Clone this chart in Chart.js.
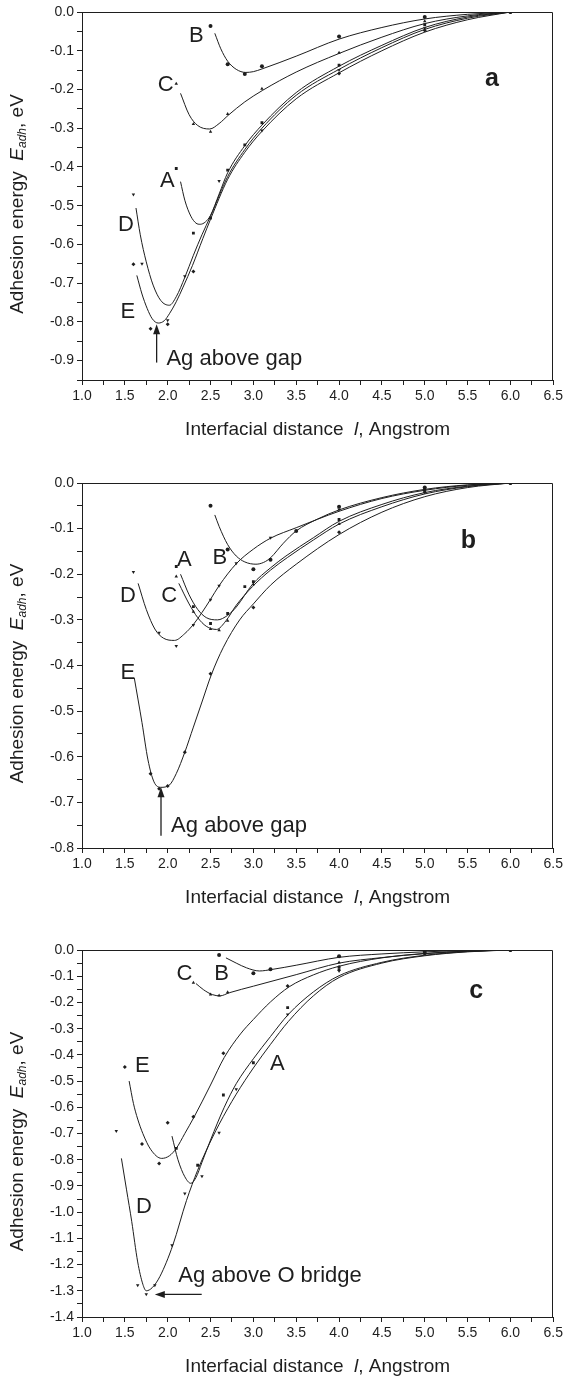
<!DOCTYPE html>
<html>
<head>
<meta charset="utf-8">
<script src="https://cdn.jsdelivr.net/npm/chart.js@4.4.0/dist/chart.umd.min.js"></script>
<style>
html,body{margin:0;padding:0;background:#fff;}
#wrap{position:relative;width:566px;height:1377px;overflow:hidden;}
.pane{position:absolute;left:0;width:566px;}
canvas{display:block;}
</style>
</head>
<body>
<div id="wrap">
  <div class="pane" style="top:0px;height:460px"><canvas id="ca" width="566" height="460"></canvas></div>
  <div class="pane" style="top:460px;height:460px"><canvas id="cb" width="566" height="460"></canvas></div>
  <div class="pane" style="top:920px;height:457px"><canvas id="cc" width="566" height="457"></canvas></div>
</div>
<script>
// ---------------- tick labels ----------------
const xTickLabels = ['1.0','1.5','2.0','2.5','3.0','3.5','4.0','4.5','5.0','5.5','6.0','6.5'];
const yTickLabelsA = ['0.0','-0.1','-0.2','-0.3','-0.4','-0.5','-0.6','-0.7','-0.8','-0.9'];
const yTickLabelsB = ['0.0','-0.1','-0.2','-0.3','-0.4','-0.5','-0.6','-0.7','-0.8'];
const yTickLabelsC = ['0.0','-0.1','-0.2','-0.3','-0.4','-0.5','-0.6','-0.7','-0.8','-0.9','-1.0','-1.1','-1.2','-1.3','-1.4'];
const seriesNames = ['A','B','C','D','E'];

// ---------------- panel a : fitted curves [l, E] ----------------
const a_A_curve = [[2.15,-0.438],[2.2,-0.486],[2.27,-0.527],[2.33,-0.545],[2.38,-0.548],[2.44,-0.542],[2.5,-0.525],[2.6,-0.470],[2.7,-0.415],[2.9,-0.345],[3.1,-0.292],[3.5,-0.208],[4.0,-0.140],[4.5,-0.086],[5.0,-0.040],[5.5,-0.013],[6.0,0]];
const a_B_curve = [[2.55,-0.055],[2.62,-0.095],[2.7,-0.127],[2.8,-0.148],[2.91,-0.156],[3.0,-0.154],[3.1,-0.147],[3.5,-0.114],[4.0,-0.070],[4.5,-0.040],[5.0,-0.018],[5.5,-0.006],[6.0,0]];
const a_C_curve = [[2.15,-0.210],[2.25,-0.265],[2.35,-0.293],[2.49,-0.302],[2.6,-0.288],[2.71,-0.266],[2.9,-0.232],[3.11,-0.202],[3.5,-0.155],[4.0,-0.107],[4.5,-0.065],[5.0,-0.030],[5.5,-0.010],[6.0,0]];
const a_D_curve = [[1.63,-0.506],[1.68,-0.575],[1.75,-0.645],[1.83,-0.705],[1.92,-0.745],[2.02,-0.757],[2.1,-0.735],[2.2,-0.685],[2.3,-0.628],[2.4,-0.575],[2.5,-0.527],[2.7,-0.425],[2.9,-0.355],[3.1,-0.300],[3.5,-0.215],[4.0,-0.148],[4.5,-0.092],[5.0,-0.045],[5.5,-0.016],[6.0,0]];
const a_E_curve = [[1.64,-0.680],[1.70,-0.728],[1.76,-0.765],[1.82,-0.792],[1.89,-0.803],[1.96,-0.797],[2.02,-0.779],[2.1,-0.748],[2.18,-0.710],[2.29,-0.654],[2.41,-0.585],[2.5,-0.535],[2.7,-0.432],[2.9,-0.362],[3.1,-0.308],[3.5,-0.224],[4.0,-0.157],[4.5,-0.100],[5.0,-0.052],[5.5,-0.020],[6.0,0]];
// panel a : computed points
const a_A_pts = [[2.1,-0.404],[2.3,-0.571],[2.5,-0.532],[2.7,-0.408],[2.9,-0.343],[3.1,-0.286],[4.0,-0.137],[5.0,-0.033],[6.0,0]];
const a_B_pts = [[2.5,-0.036],[2.7,-0.135],[2.9,-0.160],[3.1,-0.140],[4.0,-0.063],[5.0,-0.013],[6.0,0]];
const a_C_pts = [[2.1,-0.185],[2.3,-0.289],[2.5,-0.309],[2.7,-0.263],[3.1,-0.198],[4.0,-0.105],[5.0,-0.024],[6.0,0]];
const a_D_pts = [[1.6,-0.471],[1.7,-0.650],[2.0,-0.796],[2.2,-0.682],[2.6,-0.436],[3.1,-0.306],[4.0,-0.150],[5.0,-0.042],[6.0,0]];
const a_E_pts = [[1.6,-0.651],[1.8,-0.818],[2.0,-0.806],[2.3,-0.670],[4.0,-0.159],[5.0,-0.048],[6.0,0]];

// ---------------- panel b ----------------
const b_A_curve = [[2.15,-0.200],[2.25,-0.245],[2.35,-0.277],[2.45,-0.295],[2.58,-0.300],[2.7,-0.290],[2.8,-0.272],[2.99,-0.222],[3.2,-0.186],[3.38,-0.160],[3.7,-0.120],[4.0,-0.084],[4.5,-0.047],[5.0,-0.021],[5.5,-0.007],[6.0,0]];
const b_B_curve = [[2.55,-0.070],[2.6,-0.095],[2.7,-0.135],[2.8,-0.160],[2.9,-0.173],[3.03,-0.178],[3.12,-0.174],[3.2,-0.164],[3.35,-0.132],[3.5,-0.105],[3.75,-0.079],[4.0,-0.059],[4.5,-0.032],[5.0,-0.014],[5.5,-0.004],[6.0,0]];
const b_C_curve = [[2.13,-0.220],[2.25,-0.265],[2.35,-0.295],[2.45,-0.314],[2.57,-0.321],[2.68,-0.302],[2.8,-0.268],[2.99,-0.227],[3.2,-0.191],[3.4,-0.163],[3.7,-0.125],[4.0,-0.090],[4.5,-0.052],[5.0,-0.024],[5.5,-0.008],[6.0,0]];
const b_D_curve = [[1.655,-0.220],[1.75,-0.277],[1.85,-0.320],[1.95,-0.340],[2.08,-0.345],[2.2,-0.330],[2.3,-0.310],[2.4,-0.284],[2.5,-0.255],[2.6,-0.225],[2.8,-0.177],[3.0,-0.145],[3.2,-0.121],[3.5,-0.098],[4.0,-0.062],[4.5,-0.034],[5.0,-0.016],[5.5,-0.005],[6.0,0]];
const b_E_curve = [[1.61,-0.427],[1.70,-0.525],[1.77,-0.607],[1.84,-0.655],[1.92,-0.667],[2.02,-0.662],[2.1,-0.637],[2.2,-0.590],[2.3,-0.535],[2.4,-0.480],[2.51,-0.420],[2.65,-0.360],[2.84,-0.300],[3.0,-0.265],[3.2,-0.224],[3.5,-0.178],[4.0,-0.113],[4.5,-0.064],[5.0,-0.030],[5.5,-0.010],[6.0,0]];
const b_A_pts = [[2.1,-0.183],[2.3,-0.271],[2.5,-0.308],[2.7,-0.286],[2.9,-0.227],[3.0,-0.216],[4.0,-0.080],[5.0,-0.015],[6.0,0]];
const b_B_pts = [[2.5,-0.050],[2.7,-0.146],[3.0,-0.189],[3.2,-0.168],[3.5,-0.105],[4.0,-0.052],[5.0,-0.010],[6.0,0]];
const b_C_pts = [[2.1,-0.205],[2.3,-0.282],[2.5,-0.320],[2.6,-0.323],[2.7,-0.302],[3.0,-0.222],[4.0,-0.090],[5.0,-0.018],[6.0,0]];
const b_D_pts = [[1.6,-0.195],[1.9,-0.328],[2.1,-0.357],[2.3,-0.311],[2.5,-0.256],[2.6,-0.225],[2.8,-0.176],[3.2,-0.120],[4.0,-0.058],[5.0,-0.012],[6.0,0]];
const b_E_pts = [[1.8,-0.637],[1.9,-0.670],[2.0,-0.664],[2.2,-0.590],[2.5,-0.418],[3.0,-0.273],[4.0,-0.108],[5.0,-0.020],[6.0,0]];

// ---------------- panel c ----------------
const c_A_curve = [[2.05,-0.710],[2.12,-0.800],[2.2,-0.865],[2.27,-0.890],[2.33,-0.868],[2.4,-0.810],[2.5,-0.725],[2.66,-0.600],[2.8,-0.510],[3.0,-0.415],[3.2,-0.330],[3.41,-0.245],[3.7,-0.160],[4.0,-0.098],[4.5,-0.047],[5.0,-0.020],[5.5,-0.006],[6.0,0]];
const c_B_curve = [[2.68,-0.030],[2.8,-0.050],[2.92,-0.068],[3.07,-0.080],[3.22,-0.074],[3.5,-0.058],[4.0,-0.028],[4.5,-0.015],[5.0,-0.007],[5.5,-0.002],[6.0,0]];
const c_C_curve = [[2.33,-0.128],[2.42,-0.152],[2.52,-0.170],[2.61,-0.175],[2.72,-0.163],[3.0,-0.138],[3.5,-0.094],[4.0,-0.050],[4.5,-0.029],[5.0,-0.014],[5.5,-0.005],[6.0,0]];
const c_D_curve = [[1.46,-0.795],[1.52,-0.915],[1.58,-1.035],[1.65,-1.190],[1.71,-1.275],[1.75,-1.300],[1.82,-1.288],[1.91,-1.245],[2.06,-1.126],[2.22,-0.955],[2.35,-0.840],[2.45,-0.765],[2.6,-0.665],[2.8,-0.550],[3.0,-0.450],[3.2,-0.360],[3.41,-0.272],[3.7,-0.175],[4.0,-0.105],[4.5,-0.050],[5.0,-0.022],[5.5,-0.007],[6.0,0]];
const c_E_curve = [[1.55,-0.500],[1.6,-0.585],[1.65,-0.645],[1.71,-0.700],[1.8,-0.760],[1.93,-0.795],[2.02,-0.785],[2.1,-0.757],[2.2,-0.700],[2.31,-0.636],[2.5,-0.515],[2.66,-0.410],[2.85,-0.320],[3.0,-0.265],[3.2,-0.198],[3.42,-0.140],[3.7,-0.095],[4.0,-0.062],[4.5,-0.030],[5.0,-0.013],[5.5,-0.004],[6.0,0]];
const c_A_pts = [[2.1,-0.757],[2.35,-0.821],[2.65,-0.553],[3.0,-0.430],[3.4,-0.220],[4.0,-0.075],[5.0,-0.012],[6.0,0]];
const c_B_pts = [[2.6,-0.019],[3.0,-0.089],[3.2,-0.073],[4.0,-0.024],[5.0,-0.008],[6.0,0]];
const c_C_pts = [[2.3,-0.125],[2.5,-0.170],[2.6,-0.174],[2.7,-0.161],[4.0,-0.048],[5.0,-0.012],[6.0,0]];
const c_D_pts = [[1.4,-0.690],[1.65,-1.279],[1.75,-1.313],[1.85,-1.279],[2.05,-1.126],[2.2,-0.929],[2.4,-0.863],[2.6,-0.697],[2.8,-0.531],[3.4,-0.246],[4.0,-0.080],[5.0,-0.010],[6.0,0]];
const c_E_pts = [[1.5,-0.446],[1.7,-0.740],[1.9,-0.814],[2.0,-0.659],[2.3,-0.636],[2.65,-0.394],[3.4,-0.137],[4.0,-0.065],[5.0,-0.014],[6.0,0]];

// ---------------- styling ----------------
const INK = '#1e1e1e';
const FONT = "'Liberation Sans', Arial, Helvetica, sans-serif";
const markerStyle = {A:{s:'rect',r:0}, B:{s:'circle',r:0}, C:{s:'triangle',r:0}, D:{s:'triangle',r:180}, E:{s:'rectRot',r:0}};

function toXY(arr){ return arr.map(p => ({x:p[0], y:p[1]})); }
function curveDS(arr){
  return {data:toXY(arr), showLine:true, pointRadius:0, borderWidth:1, borderColor:INK,
          backgroundColor:INK, fill:false, cubicInterpolationMode:'monotone'};
}
function pointDS(arr, name){
  const m = markerStyle[name];
  return {data:toXY(arr), showLine:false, pointRadius:2, pointStyle:m.s, rotation:m.r,
          pointBackgroundColor:INK, pointBorderColor:INK, pointBorderWidth:0};
}
function labelFor(list){
  return function(v){
    const s = list.find(l => Math.abs(parseFloat(l) - v) < 1e-6);
    return s === undefined ? '' : s;
  };
}
function drawRuns(ctx, runs, x, y){
  let w = 0;
  runs.forEach(r => { ctx.font = r.f; r.w = ctx.measureText(r.t).width; w += r.w; });
  let cx = x - w/2;
  runs.forEach(r => { ctx.font = r.f; ctx.fillText(r.t, cx, y + (r.dy||0)); cx += r.w; });
}

const panelPlugin = {
  id: 'panelPlugin',
  afterDraw(chart, args, o){
    const {ctx, chartArea: ca} = chart;
    const xs = chart.scales.x, ys = chart.scales.y;
    ctx.save();
    ctx.strokeStyle = INK; ctx.lineWidth = 1;
    ctx.beginPath();
    const t = Math.round(ca.top) + 0.5, r = Math.round(ca.right) - 0.5;
    ctx.moveTo(ca.left, t); ctx.lineTo(r, t); ctx.lineTo(r, ca.bottom);
    ctx.stroke();
    ctx.fillStyle = INK;
    ctx.textBaseline = 'middle';
    ctx.textAlign = 'left';
    drawRuns(ctx, [
      {t:'Interfacial distance  ', f:'19px ' + FONT},
      {t:'l', f:'italic 19px ' + FONT},
      {t:', Angstrom', f:'19px ' + FONT}
    ], (ca.left + ca.right)/2, ca.bottom + 50);
    ctx.save();
    ctx.translate(18, (ca.top + ca.bottom)/2 + 8);
    ctx.rotate(-Math.PI/2);
    drawRuns(ctx, [
      {t:'Adhesion energy  ', f:'19px ' + FONT},
      {t:'E', f:'italic 19px ' + FONT},
      {t:'adh', f:'italic 12px ' + FONT, dy:5},
      {t:', eV', f:'19px ' + FONT}
    ], 0, 0);
    ctx.restore();
    ctx.textAlign = 'center';
    ctx.font = '22px ' + FONT;
    o.letters.forEach(L => ctx.fillText(L[0], xs.getPixelForValue(L[1]), ys.getPixelForValue(L[2])));
    ctx.font = 'bold 25px ' + FONT;
    ctx.fillText(o.panel[0], xs.getPixelForValue(o.panel[1]), ys.getPixelForValue(o.panel[2]));
    ctx.textAlign = 'left';
    ctx.font = '22px ' + FONT;
    ctx.fillText(o.note[0], xs.getPixelForValue(o.note[1]), ys.getPixelForValue(o.note[2]));
    const a = o.arrow;
    const x1 = xs.getPixelForValue(a[0]), y1 = ys.getPixelForValue(a[1]);
    const x2 = xs.getPixelForValue(a[2]), y2 = ys.getPixelForValue(a[3]);
    const ang = Math.atan2(y2 - y1, x2 - x1);
    const hl = 10, hw = 3.5;
    ctx.lineWidth = 1.3;
    ctx.beginPath(); ctx.moveTo(x1, y1);
    ctx.lineTo(x2 - Math.cos(ang)*hl*0.8, y2 - Math.sin(ang)*hl*0.8); ctx.stroke();
    ctx.beginPath();
    ctx.moveTo(x2, y2);
    ctx.lineTo(x2 - Math.cos(ang)*hl - Math.sin(ang)*hw, y2 - Math.sin(ang)*hl + Math.cos(ang)*hw);
    ctx.lineTo(x2 - Math.cos(ang)*hl + Math.sin(ang)*hw, y2 - Math.sin(ang)*hl - Math.cos(ang)*hw);
    ctx.closePath(); ctx.fill();
    ctx.restore();
  }
};

function makePanel(id, H, top, bottom, ymin, yLabels, curves, points, annot){
  const datasets = [];
  seriesNames.forEach((n, i) => { datasets.push(curveDS(curves[i])); });
  seriesNames.forEach((n, i) => { datasets.push(pointDS(points[i], n)); });
  return new Chart(document.getElementById(id), {
    type: 'scatter',
    data: { datasets },
    plugins: [panelPlugin],
    options: {
      responsive: false,
      animation: false,
      events: [],
      layout: { padding: { top: top, right: 11, left: 0, bottom: 0 } },
      plugins: { legend: {display:false}, tooltip: {enabled:false}, panelPlugin: annot },
      scales: {
        x: {
          type: 'linear', min: 1, max: 6.5,
          afterFit: s => { s.height = H - bottom; },
          ticks: { stepSize: 0.25, autoSkip: false, maxRotation: 0, padding: 3,
                   color: INK, font: {family: FONT, size: 14}, callback: labelFor(xTickLabels) },
          grid: { drawOnChartArea: false, drawTicks: true, tickLength: 5, color: INK, tickColor: INK },
          border: { color: INK, width: 1 }
        },
        y: {
          type: 'linear', min: ymin, max: 0,
          afterFit: s => { s.width = 82; },
          ticks: { stepSize: 0.05, autoSkip: false, padding: 3,
                   color: INK, font: {family: FONT, size: 14}, callback: labelFor(yLabels) },
          grid: { drawOnChartArea: false, drawTicks: true, tickLength: 5, color: INK, tickColor: INK },
          border: { color: INK, width: 1 }
        }
      }
    }
  });
}

makePanel('ca', 460, 12, 380, -0.95, yTickLabelsA,
  [a_A_curve, a_B_curve, a_C_curve, a_D_curve, a_E_curve],
  [a_A_pts, a_B_pts, a_C_pts, a_D_pts, a_E_pts],
  { letters: [['B',2.334,-0.061],['C',1.976,-0.187],['A',1.997,-0.436],['D',1.513,-0.549],['E',1.535,-0.775]],
    panel: ['a',5.785,-0.172], note: ['Ag above gap',1.985,-0.896], arrow: [1.871,-0.905,1.871,-0.806] });

makePanel('cb', 460, 23, 388, -0.8, yTickLabelsB,
  [b_A_curve, b_B_curve, b_C_curve, b_D_curve, b_E_curve],
  [b_A_pts, b_B_pts, b_C_pts, b_D_pts, b_E_pts],
  { letters: [['A',2.195,-0.168],['B',2.608,-0.164],['C',2.019,-0.248],['D',1.535,-0.248],['E',1.535,-0.416]],
    panel: ['b',5.51,-0.128], note: ['Ag above gap',2.04,-0.751], arrow: [1.922,-0.773,1.922,-0.667] });

makePanel('cc', 457, 30, 397, -1.4, yTickLabelsC,
  [c_A_curve, c_B_curve, c_C_curve, c_D_curve, c_E_curve],
  [c_A_pts, c_B_pts, c_C_pts, c_D_pts, c_E_pts],
  { letters: [['C',2.195,-0.093],['B',2.629,-0.093],['E',1.703,-0.444],['A',3.281,-0.434],['D',1.724,-0.980]],
    panel: ['c',5.60,-0.157], note: ['Ag above O bridge',2.124,-1.245], arrow: [2.397,-1.314,1.85,-1.314] });
</script>
</body>
</html>
